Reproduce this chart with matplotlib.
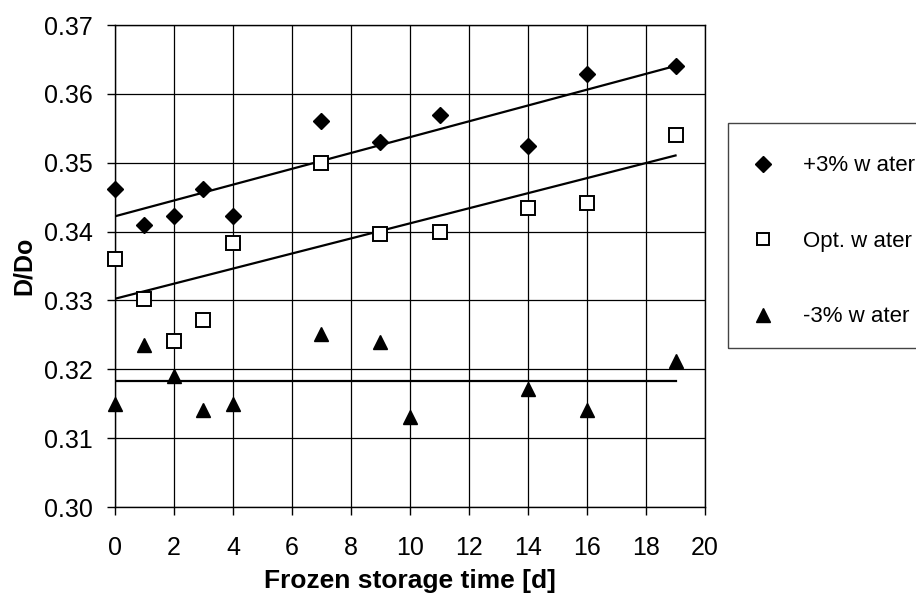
import numpy as np
import matplotlib.pyplot as plt
from matplotlib.patches import Rectangle

plt.rcParams['font.family'] = ['Liberation Sans', 'DejaVu Sans']

# storage time [d]
days = [0, 1, 2, 3, 4, 7, 9, 11, 14, 16, 19]
days_low = [0, 1, 2, 3, 4, 7, 9, 10, 14, 16, 19]

plus3 = [0.3462, 0.3409, 0.3422, 0.3462, 0.3422, 0.3561, 0.3530, 0.3570, 0.3525, 0.3629, 0.3641]
opt = [0.3360, 0.3302, 0.3241, 0.3271, 0.3383, 0.3500, 0.3397, 0.3400, 0.3434, 0.3441, 0.3540]
minus3 = [0.3149, 0.3235, 0.3190, 0.3141, 0.3150, 0.3252, 0.3240, 0.3131, 0.3171, 0.3141, 0.3212]

labels = ["+3% w ater", "Opt. w ater", "-3% w ater"]

fig = plt.figure(figsize=(9.16, 5.96), dpi=100)
ax = fig.add_axes([0.1255, 0.1493, 0.6442, 0.8087])

# trend lines (linear fit for the two upper series, mean level for -3%)
xfit = np.array([0, 19])
for xs, ys in [(days, plus3), (days, opt)]:
    k, d = np.polyfit(xs, ys, 1)
    ax.plot(xfit, k * xfit + d, color="black", lw=1.6, zorder=2)
ax.plot(xfit, [np.mean(minus3)] * 2, color="black", lw=1.6, zorder=2)

h1, = ax.plot(days, plus3, "D", color="black", ms=8.5, ls="none", zorder=3, clip_on=False)
h2, = ax.plot(days, opt, "s", mfc="white", mec="black", mew=1.4, ms=9.5, ls="none",
              zorder=3, clip_on=False)
h3, = ax.plot(days_low, minus3, "^", color="black", ms=10, ls="none", zorder=3, clip_on=False)

ax.set_xlim(0, 20)
ax.set_ylim(0.30, 0.37)
ax.set_xticks(range(0, 21, 2))
ax.set_yticks(np.arange(0.30, 0.3701, 0.01))
ax.yaxis.set_major_formatter(plt.FormatStrFormatter("%.2f"))
ax.grid(True, color="black", lw=0.9)
ax.set_axisbelow(True)
ax.tick_params(direction="out", length=6, width=1, labelsize=18)
ax.tick_params(axis="x", pad=15)
ax.tick_params(axis="y", pad=10)
for s in ax.spines.values():
    s.set_linewidth(1)
ax.set_xlabel("Frozen storage time [d]", fontsize=19, fontweight="bold", labelpad=6)
ax.set_ylabel("D/Do", fontsize=18, fontweight="bold", labelpad=6)

# legend box runs off the right edge of the figure
fig.patches.append(Rectangle((728 / 916, 1 - 348 / 596), 0.3, (348 - 123) / 596,
                             transform=fig.transFigure, fill=False, ec="#444444", lw=1))
fig.legend([h1, h2, h3], labels, loc="center left", bbox_to_anchor=(0.801, 0.595),
           frameon=False, fontsize=16, handlelength=0.8, handletextpad=1.4,
           labelspacing=2.45, markerscale=0.95)

fig.savefig("out.png", dpi=100)
